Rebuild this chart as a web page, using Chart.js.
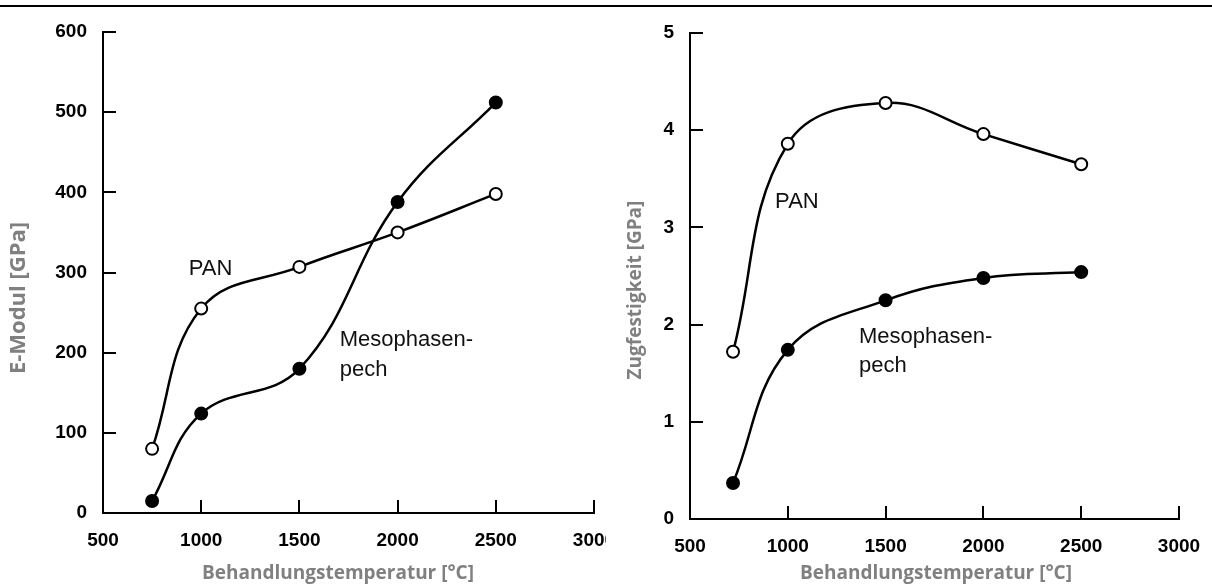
<!DOCTYPE html>
<html>
<head>
<meta charset="utf-8">
<script src="https://cdn.jsdelivr.net/npm/chart.js@4.4.0/dist/chart.umd.min.js"></script>
<style>
  html, body { margin: 0; padding: 0; background: #fff; }
  body { width: 1212px; height: 585px; position: relative; overflow: hidden; }
  .rule { position: absolute; left: 0; top: 5px; width: 1212px; height: 2px; background: #000; }
  .panel { position: absolute; top: 0; height: 585px; overflow: hidden; }
  #leftPanel { left: 0; width: 606px; }
  #rightPanel { left: 606px; width: 606px; }
</style>
</head>
<body>
<div class="rule"></div>
<div class="panel" id="leftPanel"><canvas id="modulChart" width="630" height="585"></canvas></div>
<div class="panel" id="rightPanel"><canvas id="strengthChart" width="606" height="585"></canvas></div>
<script>
// ---- data ----
const tempModul = [750, 1000, 1500, 2000, 2500];
const modulPAN = [80, 255, 307, 350, 398];
const modulPech = [15, 124, 180, 388, 512];

const tempStrength = [720, 1000, 1500, 2000, 2500];
const strengthPAN = [1.72, 3.86, 4.28, 3.96, 3.65];
const strengthPech = [0.37, 1.74, 2.25, 2.48, 2.54];

const xTicks = [500, 1000, 1500, 2000, 2500, 3000];
const modulTicks = [0, 100, 200, 300, 400, 500, 600];
const strengthTicks = [0, 1, 2, 3, 4, 5];

// curve labels, in data units
const modulLabels = [
    { text: 'PAN', x: 937, y: 305 },
    { text: 'Mesophasen-', x: 1705, y: 216 },
    { text: 'pech', x: 1705, y: 178 }
];
const strengthLabels = [
    { text: 'PAN', x: 935, y: 3.26 },
    { text: 'Mesophasen-', x: 1364, y: 1.875 },
    { text: 'pech', x: 1364, y: 1.574 }
];

const xTitle = 'Behandlungstemperatur [°C]';
const gray = '#808080';
const tickFont = { family: '"Liberation Sans", Arial, sans-serif', size: 19, weight: 'bold' };

const toPoints = (xs, ys) => xs.map((x, i) => ({ x, y: ys[i] }));

// ticks pointing into the plot
const inwardTicks = {
    id: 'inwardTicks',
    beforeDatasetsDraw(chart, args, opts) {
        const { ctx, chartArea, scales: { x, y } } = chart;
        ctx.save();
        ctx.strokeStyle = '#000';
        ctx.lineWidth = 2;
        ctx.beginPath();
        y.ticks.forEach(t => {
            if (t.value === y.min) return;
            const py = Math.round(y.getPixelForValue(t.value));
            ctx.moveTo(chartArea.left, py);
            ctx.lineTo(chartArea.left + opts.length, py);
        });
        x.ticks.forEach(t => {
            if (t.value === x.min) return;
            const px = Math.round(x.getPixelForValue(t.value));
            ctx.moveTo(px, chartArea.bottom);
            ctx.lineTo(px, chartArea.bottom - opts.length);
        });
        ctx.stroke();
        ctx.restore();
    }
};

// text next to the curves, and both axis titles
const chartText = {
    id: 'chartText',
    afterDatasetsDraw(chart, args, opts) {
        const { ctx, scales: { x, y } } = chart;
        ctx.save();
        ctx.fillStyle = '#111';
        ctx.font = '22px "Liberation Sans", Arial, sans-serif';
        ctx.textAlign = 'left';
        ctx.textBaseline = 'middle';
        opts.labels.forEach(l => ctx.fillText(l.text, x.getPixelForValue(l.x), y.getPixelForValue(l.y)));

        ctx.fillStyle = gray;
        ctx.textAlign = 'center';
        ctx.font = 'bold 19px "Open Sans", sans-serif';
        ctx.fillText(xTitle, opts.xTitleX, opts.xTitleY);

        ctx.translate(opts.yTitleX, opts.yTitleY);
        ctx.rotate(-Math.PI / 2);
        ctx.font = `bold ${opts.yTitleSize}px "Open Sans", sans-serif`;
        ctx.fillText(opts.yTitle, 0, 0);
        ctx.restore();
    }
};

function makeChart(id, cfg) {
    return new Chart(document.getElementById(id), {
        type: 'line',
        data: {
            datasets: [
                {
                    label: 'PAN',
                    data: toPoints(cfg.temps, cfg.pan),
                    borderColor: '#000', borderWidth: 2.5,
                    pointBackgroundColor: '#fff', pointBorderColor: '#000',
                    pointBorderWidth: 2, pointRadius: 6,
                    tension: 0.4
                },
                {
                    label: 'Mesophasenpech',
                    data: toPoints(cfg.temps, cfg.pech),
                    borderColor: '#000', borderWidth: 2.5,
                    pointBackgroundColor: '#000', pointBorderColor: '#000',
                    pointBorderWidth: 2, pointRadius: 6,
                    tension: 0.4
                }
            ]
        },
        options: {
            responsive: false,
            animation: false,
            events: [],
            layout: { padding: cfg.padding },
            plugins: {
                legend: { display: false },
                tooltip: { enabled: false },
                inwardTicks: { length: 13 },
                chartText: {
                    labels: cfg.labels,
                    xTitleX: cfg.xTitleX, xTitleY: 574,
                    yTitle: cfg.yTitle, yTitleSize: cfg.yTitleSize,
                    yTitleX: cfg.yTitleX, yTitleY: cfg.yTitleY
                }
            },
            scales: {
                x: {
                    type: 'linear',
                    min: xTicks[0], max: xTicks[xTicks.length - 1],
                    afterBuildTicks: s => { s.ticks = xTicks.map(v => ({ value: v })); },
                    afterFit: s => { s.height = cfg.xHeight; },
                    grid: { display: false },
                    border: { display: true, color: '#000', width: 2 },
                    ticks: { color: '#000', font: tickFont, padding: 8, maxRotation: 0, callback: v => String(v) }
                },
                y: {
                    type: 'linear',
                    min: cfg.yTicks[0], max: cfg.yTicks[cfg.yTicks.length - 1],
                    afterBuildTicks: s => { s.ticks = cfg.yTicks.map(v => ({ value: v })); },
                    afterFit: s => { s.width = cfg.yWidth; },
                    grid: { display: false },
                    border: { display: true, color: '#000', width: 2 },
                    ticks: { color: '#000', font: tickFont, padding: 8, callback: v => String(v) }
                }
            }
        },
        plugins: [inwardTicks, chartText]
    });
}

makeChart('modulChart', {
    temps: tempModul, pan: modulPAN, pech: modulPech,
    yTicks: modulTicks, labels: modulLabels,
    yTitle: 'E-Modul [GPa]', yTitleSize: 22, yTitleX: 19, yTitleY: 298, xTitleX: 338,
    padding: { top: 32, right: 36, left: 0, bottom: 0 },
    yWidth: 103, xHeight: 72
});

makeChart('strengthChart', {
    temps: tempStrength, pan: strengthPAN, pech: strengthPech,
    yTicks: strengthTicks, labels: strengthLabels,
    yTitle: 'Zugfestigkeit [GPa]', yTitleSize: 19, yTitleX: 30, yTitleY: 290, xTitleX: 330,
    padding: { top: 33, right: 33, left: 0, bottom: 0 },
    yWidth: 84, xHeight: 66
});
</script>
</body>
</html>
